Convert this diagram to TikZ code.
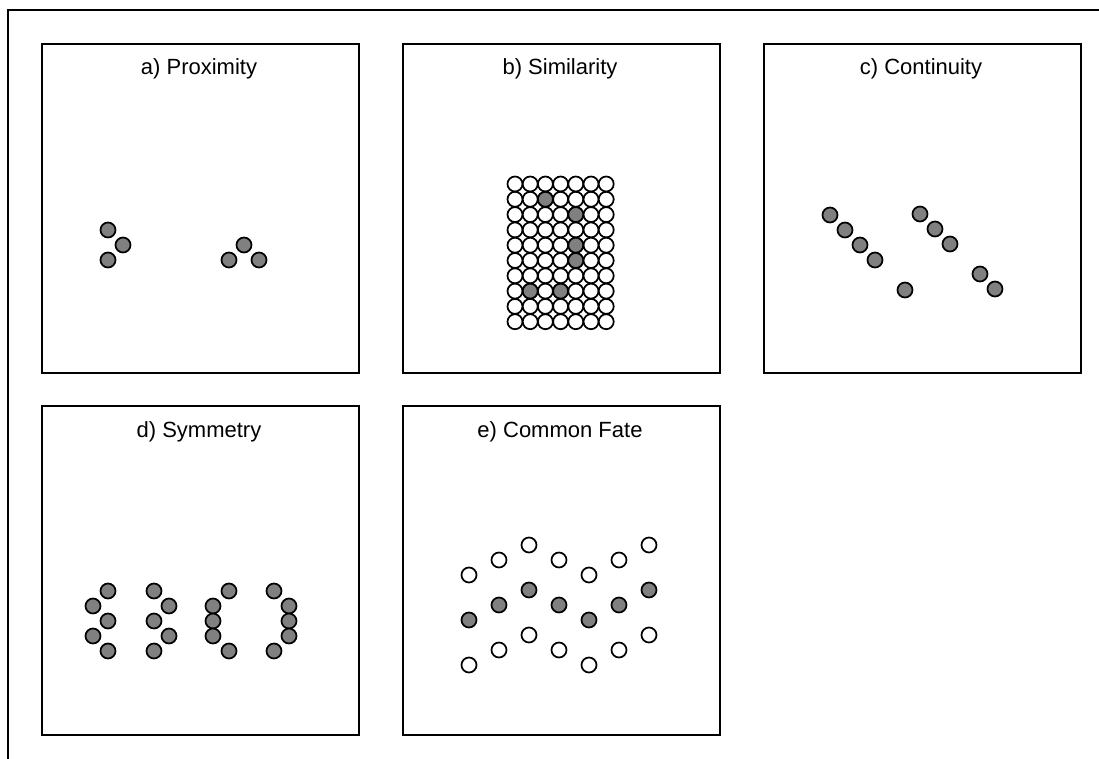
\documentclass[tikz,border=0pt]{standalone}
\usepackage{fontspec}
\setmainfont{Liberation Sans}
\usetikzlibrary{positioning}

\begin{document}
\begin{tikzpicture}[
    x=0.75pt, y=-0.75pt,
    panel/.style={rectangle, draw, line width=1.4pt, minimum width=237.75pt, minimum height=246.75pt, inner sep=0pt, anchor=north west},
    title/.style={font=\fontsize{16.5}{19}\selectfont, anchor=base},
    dot/.style={circle, draw, line width=1.3pt, fill=gray, minimum size=11.25pt, inner sep=0pt},
    hole/.style={dot, fill=white}
]
    \useasboundingbox (0,0) rectangle (1099,759);
    \draw[line width=1.4pt] (8,759) -- (8,10) -- (1099,10);

    % Panels
    \node[panel] (pa) at (41,43) {};
    \node[panel] (pb) at (402,43) {};
    \node[panel] (pc) at (763,43) {};
    \node[panel] (pd) at (41,405) {};
    \node[panel] (pe) at (402,405) {};

    \node[title] (ta) at (199,75) {a) Proximity};
    \node[title] (tb) at (560,75) {b) Similarity};
    \node[title] (tc) at (921,75) {c) Continuity};
    \node[title] (td) at (199,437) {d) Symmetry};
    \node[title] (te) at (560,437) {e) Common Fate};

    % Proximity
    \foreach \x/\y [count=\i] in {108/230,123/245,108/260,229/260,244/245,259/260}
        \node[dot] (prox\i) at (\x,\y) {};

    % Similarity
    \foreach \r in {0,...,9}
        \foreach \c in {0,...,6}
            \node[hole] (sim-\r-\c) at (515+15.2*\c, 184+15.3*\r) {};
    \foreach \r/\c [count=\i] in {1/2,2/4,4/4,5/4,7/1,7/3}
        \node[dot] (simg\i) at (sim-\r-\c) {};

    % Continuity
    \foreach \x/\y [count=\i] in {830/215,845/230,860/245,875/260,905/290,920/214,935/229,950/244,980/274,995/289}
        \node[dot] (cont\i) at (\x,\y) {};

    % Symmetry
    \foreach \x/\y [count=\i] in {108/591,93/606,108/621,93/636,108/651,
                                  154/591,169/606,154/621,169/636,154/651,
                                  229/591,213/606,213/621,213/636,229/651,
                                  274/591,289/606,289/621,289/636,274/651}
        \node[dot] (sym\i) at (\x,\y) {};

    % Common fate
    \foreach \o [count=\i] in {30,15,0,15,30,15,0} {
        \node[hole] (fate-t\i) at (439+30*\i, 545+\o) {};
        \node[dot] (fate-m\i) at (439+30*\i, 590+\o) {};
        \node[hole] (fate-b\i) at (439+30*\i, 635+\o) {};
    }
\end{tikzpicture}
\end{document}
